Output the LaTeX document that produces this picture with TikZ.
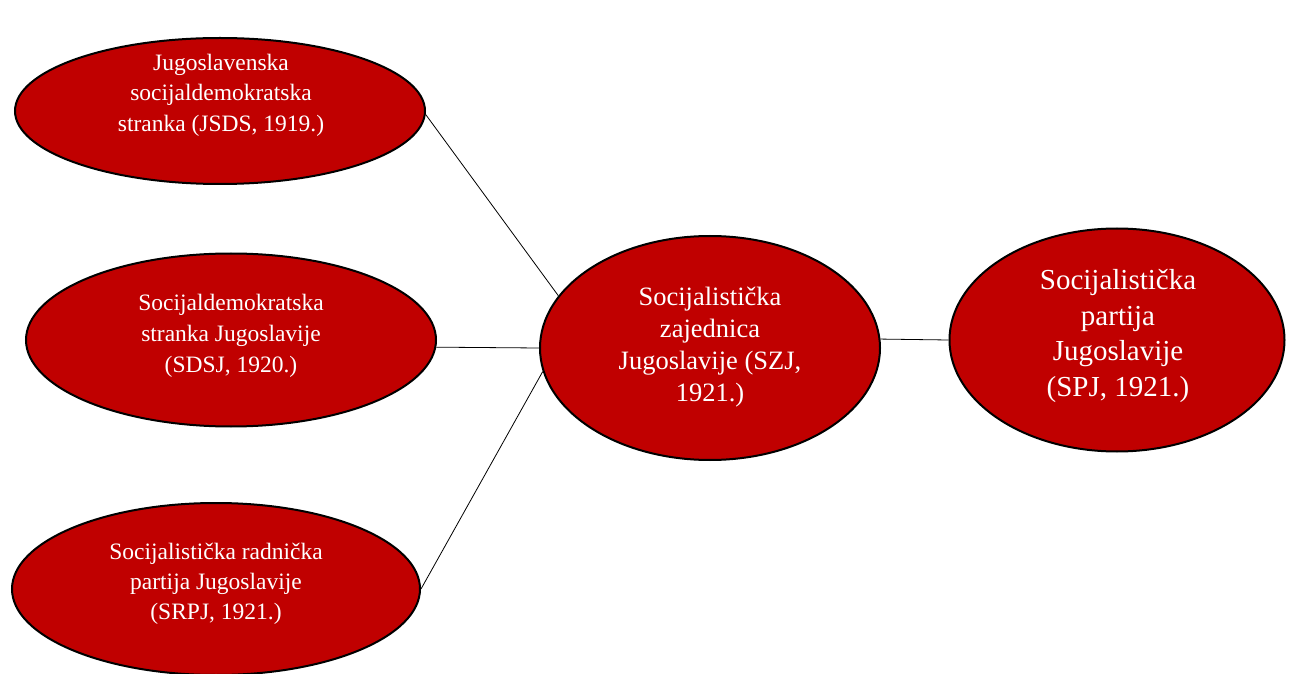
\documentclass[tikz,border=0pt]{standalone}
\usepackage{fontspec}
\setmainfont{Liberation Serif}
\usetikzlibrary{shapes.geometric}
\definecolor{partyred}{RGB}{192,0,0}
\tikzset{
  party/.style={ellipse, draw=black, line width=2pt, fill=partyred, inner sep=0pt},
  ptext/.style={text=white, align=center, inner sep=0pt},
  link/.style={draw=black, line width=0.8pt}
}
\begin{document}
\begin{tikzpicture}[x=1pt,y=1pt]
\useasboundingbox (0,0) rectangle (1293,673);
% ellipses (y = 673 - image y)
\node[party, minimum width=410, minimum height=146] (e1) at (220,562) {};
\node[party, minimum width=410, minimum height=173] (e2) at (231,333) {};
\node[party, minimum width=408, minimum height=172] (e3) at (216,84) {};
\node[party, minimum width=340, minimum height=224] (e4) at (710,325) {};
\node[party, minimum width=335, minimum height=223] (e5) at (1117,333) {};
% texts
\node[ptext, font=\fontsize{23.5}{30.5}\selectfont] (t1) at (221,578) {Jugoslavenska\\socijaldemokratska\\stranka (JSDS, 1919.)};
\node[ptext, font=\fontsize{23.5}{31}\selectfont] (t2) at (231,337) {Socijaldemokratska\\stranka Jugoslavije\\(SDSJ, 1920.)};
\node[ptext, font=\fontsize{23.5}{30}\selectfont] (t3) at (216,89) {Socijalistička radnička\\partija Jugoslavije\\(SRPJ, 1921.)};
\node[ptext, font=\fontsize{26.5}{32}\selectfont] (t4) at (710,326) {Socijalistička\\zajednica\\Jugoslavije (SZJ,\\1921.)};
\node[ptext, font=\fontsize{29}{35.5}\selectfont] (t5) at (1118,337) {Socijalistička\\partija\\Jugoslavije\\(SPJ, 1921.)};
% connectors
\draw[link] (e1.-1) -- (e4.161.5);
\draw[link] (e2.-2) -- (e4.west);
\draw[link] (e3.east) -- (e4.188);
\draw[link] (e4.3) -- (e5.west);
\end{tikzpicture}
\end{document}
